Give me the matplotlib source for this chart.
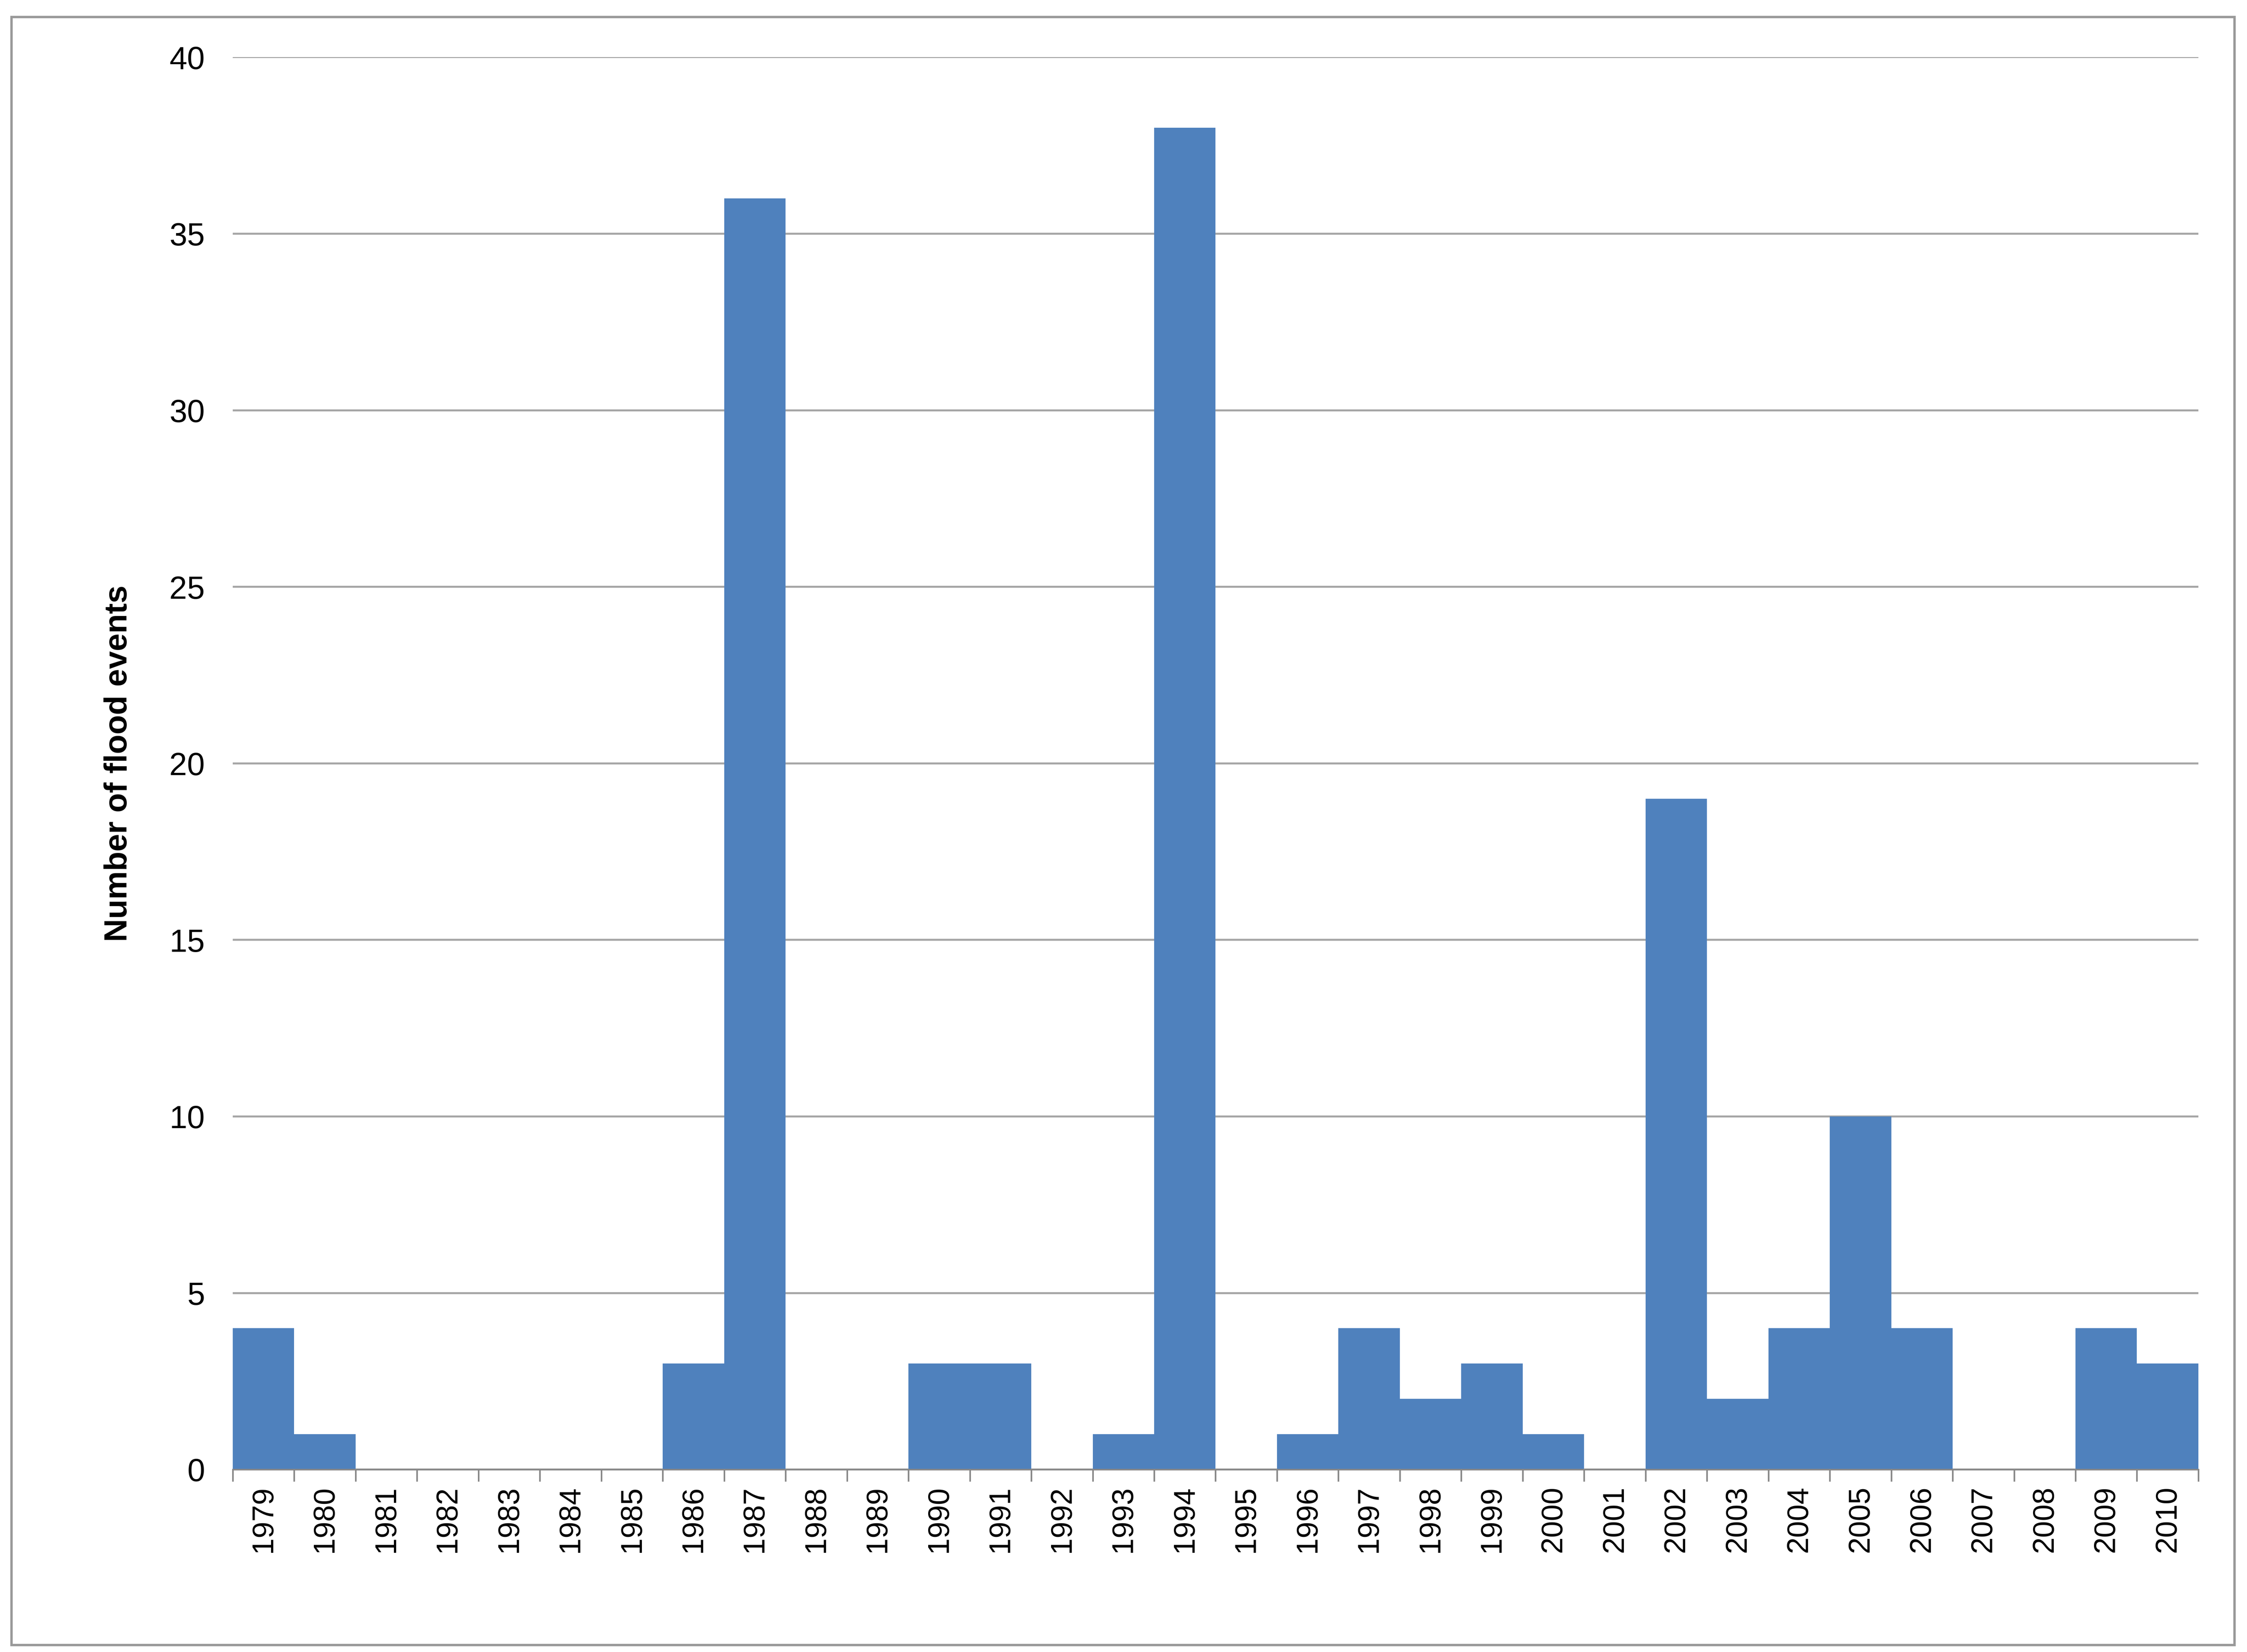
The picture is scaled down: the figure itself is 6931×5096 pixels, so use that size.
import matplotlib
matplotlib.use("Agg")
import matplotlib.pyplot as plt
from matplotlib.patches import Rectangle

years = [str(y) for y in range(1979, 2011)]
events = [4, 1, 0, 0, 0, 0, 0, 3, 36, 0, 0, 3, 3, 0, 1, 38, 0, 1, 4, 2, 3, 1,
          0, 19, 2, 4, 10, 4, 0, 0, 4, 3]

plt.rcParams["font.family"] = "Liberation Sans"
fig = plt.figure(figsize=(15.64, 11.5), dpi=443.2)
ax = fig.add_axes([162/1564, 1-1023/1150, (1530-162)/1564, (1023-40)/1150])
x = range(len(years))
ax.bar(x, events, width=1.0, color="#4F81BD", zorder=2)
ax.set_xlim(-0.5, len(years)-0.5)
ax.set_ylim(0, 40)
ax.set_yticks(range(0, 41, 5))
ax.yaxis.grid(True, color="#A6A6A6", lw=1.0, zorder=0)
ax.set_xticks([i - 0.5 for i in range(len(years)+1)], minor=False)
ax.set_xticklabels([])
ax.set_xticks(list(x), minor=True)
ax.set_xticklabels(years, minor=True, rotation=90, fontsize=15)
ax.tick_params(axis="x", which="major", length=6, color="#888888")
ax.tick_params(axis="x", which="minor", length=0, pad=8)
ax.tick_params(axis="y", length=0, labelsize=16, pad=14)
for s in ("top", "right", "left"):
    ax.spines[s].set_visible(False)
ax.spines["bottom"].set_color("#888888")
ax.set_ylabel("Number of flood events", fontsize=16, fontweight="bold", labelpad=18)
fig.patches.append(Rectangle((8/1564, 5/1150), 1547/1564, 1133/1150, transform=fig.transFigure,
                             fill=False, ec="#999999", lw=1.2))
fig.savefig("out.png")
